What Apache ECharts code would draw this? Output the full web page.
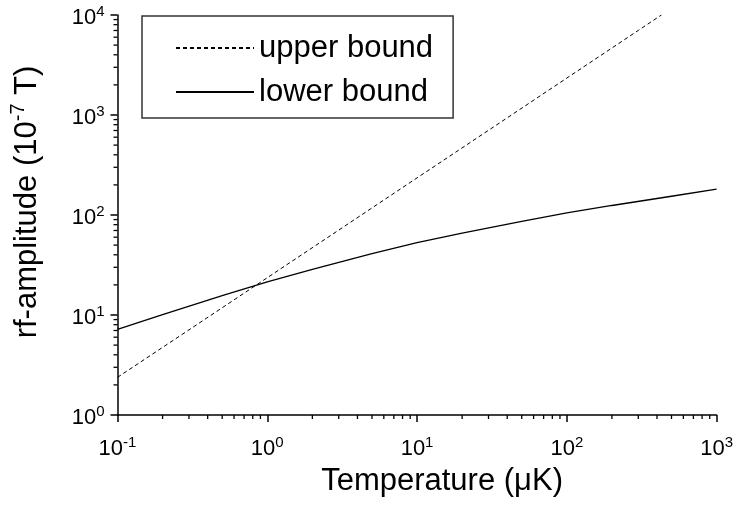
<!DOCTYPE html>
<html>
<head>
<meta charset="utf-8">
<script src="https://cdn.jsdelivr.net/npm/echarts@6/dist/echarts.min.js"></script>
<style>
html,body{margin:0;padding:0;background:#fff;}
#chart{width:736px;height:506px;}
</style>
</head>
<body>
<div id="chart"></div>
<script>
// ---- data ----
var upperT = [0.1, 0.3, 1, 3, 10, 30, 100, 300, 428];
var upperB = [2.38, 7.1, 23.6, 70.6, 235, 703, 2340, 7010, 10000];
var lowerT = [0.1, 0.2, 0.5, 1, 2, 5, 10, 20, 50, 100, 200, 500, 1000];
var lowerB = [7.2, 10.1, 15.6, 21.5, 28.6, 41, 53, 66, 86.5, 105, 124.5, 154, 181];
var xTickValues = [0.1, 1, 10, 100, 1000];
var xTickExps = ['-1', '0', '1', '2', '3'];
var yTickValues = [1, 10, 100, 1000, 10000];
var yTickExps = ['0', '1', '2', '3', '4'];
var xMinorTicks = [0.2,0.3,0.4,0.5,0.6,0.7,0.8,0.9, 2,3,4,5,6,7,8,9, 20,30,40,50,60,70,80,90, 200,300,400,500,600,700,800,900];
var yMinorTicks = [2,3,4,5,6,7,8,9, 20,30,40,50,60,70,80,90, 200,300,400,500,600,700,800,900, 2000,3000,4000,5000,6000,7000,8000,9000];
var seriesNames = ['upper bound', 'lower bound'];

var FONT = 'Liberation Sans, Arial, sans-serif';

function expFor(values, exps, v) {
  for (var i = 0; i < values.length; i++) {
    if (Math.abs(Math.log10(values[i]) - Math.log10(v)) < 1e-6) return exps[i];
  }
  return String(Math.round(Math.log10(v)));
}

function zip(a, b) { return a.map(function (v, i) { return [v, b[i]]; }); }

var labelRich = {
  b: { fontSize: 22, fontFamily: FONT, color: '#000', lineHeight: 22, padding: [6, 0, 0, 0] },
  s: { fontSize: 15, fontFamily: FONT, color: '#000', lineHeight: 15, verticalAlign: 'top' }
};

var chart = echarts.init(document.getElementById('chart'), null, { renderer: 'canvas' });

var option = {
  animation: false,
  backgroundColor: '#fff',
  grid: { left: 117, right: 18, top: 15, bottom: 91, containLabel: false },
  legend: {
    data: seriesNames,
    orient: 'vertical',
    left: 142,
    top: 16,
    padding: [15, 20, 9, 33],
    itemWidth: 78,
    itemHeight: 2,
    itemGap: 10,
    itemTextGap: 11,
    borderColor: '#333',
    borderWidth: 1.5,
    backgroundColor: '#fff',
    itemStyle: { opacity: 0 },
    textStyle: { fontSize: 31, fontFamily: FONT, color: '#000', lineHeight: 34 },
    selectedMode: false
  },
  xAxis: {
    type: 'log',
    logBase: 10,
    min: 0.1,
    max: 1000,
    splitNumber: 4,
    name: 'Temperature (\u03bcK)',
    nameLocation: 'middle',
    nameGap: 44,
    nameTextStyle: { fontSize: 31, fontFamily: FONT, color: '#000', lineHeight: 34, padding: [0, 0, 0, 50] },
    axisLine: { show: true, lineStyle: { color: '#000', width: 1.5 } },
    axisTick: { show: true, inside: false, length: 7, lineStyle: { color: '#000', width: 1.5 } },
    splitLine: { show: false },
    axisLabel: {
      margin: 20,
      formatter: function (v) { return '{b|10}{s|' + expFor(xTickValues, xTickExps, v) + '}'; },
      rich: labelRich
    }
  },
  yAxis: {
    type: 'log',
    logBase: 10,
    min: 1,
    max: 10000,
    splitNumber: 4,
    name: '{n|rf-amplitude (10}{s|-7}{n| T)}',
    nameLocation: 'middle',
    nameGap: 75,
    nameTextStyle: {
      padding: [0, 0, 0, 26],
      rich: {
        n: { fontSize: 31, fontFamily: FONT, color: '#000', lineHeight: 34, padding: [4, 0, 0, 0] },
        s: { fontSize: 20, fontFamily: FONT, color: '#000', lineHeight: 20, verticalAlign: 'top' }
      }
    },
    axisLine: { show: true, lineStyle: { color: '#000', width: 1.5 } },
    axisTick: { show: true, inside: false, length: 7, lineStyle: { color: '#000', width: 1.5 } },
    splitLine: { show: false },
    axisLabel: {
      margin: 13,
      formatter: function (v) { return '{b|10}{s|' + expFor(yTickValues, yTickExps, v) + '}'; },
      rich: labelRich
    }
  },
  series: [
    {
      name: seriesNames[0],
      type: 'line',
      data: zip(upperT, upperB),
      symbol: 'none',
      showSymbol: false,
      smooth: false,
      lineStyle: { color: '#000', width: 1, type: [4, 3] },
      itemStyle: { color: '#000' },
      z: 3
    },
    {
      name: seriesNames[1],
      type: 'line',
      data: zip(lowerT, lowerB),
      symbol: 'none',
      showSymbol: false,
      smooth: false,
      lineStyle: { color: '#000', width: 1.3, type: 'solid' },
      itemStyle: { color: '#000' },
      z: 3
    },
    {
      name: 'xminor',
      type: 'custom',
      clip: false,
      silent: true,
      z: 5,
      data: xMinorTicks.map(function (v) { return [v, 1]; }),
      renderItem: function (params, api) {
        var p = api.coord([api.value(0), 1]);
        return { type: 'line', shape: { x1: p[0], y1: p[1], x2: p[0], y2: p[1] + 4 },
                 style: { stroke: '#000', lineWidth: 1.3 } };
      }
    },
    {
      name: 'yminor',
      type: 'custom',
      clip: false,
      silent: true,
      z: 5,
      data: yMinorTicks.map(function (v) { return [0.1, v]; }),
      renderItem: function (params, api) {
        var p = api.coord([0.1, api.value(1)]);
        return { type: 'line', shape: { x1: p[0] - 4, y1: p[1], x2: p[0], y2: p[1] },
                 style: { stroke: '#000', lineWidth: 1.3 } };
      }
    }
  ]
};
chart.setOption(option);
</script>
</body>
</html>
